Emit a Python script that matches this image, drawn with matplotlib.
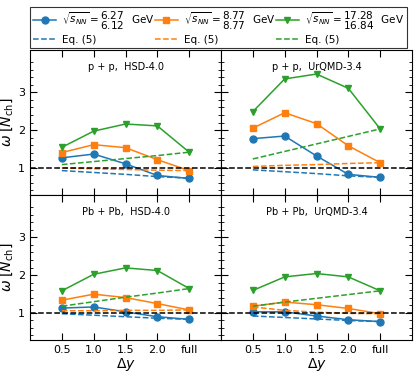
import matplotlib
matplotlib.use("Agg")
import matplotlib.pyplot as plt
from matplotlib.ticker import FixedLocator

xlabels = ["0.5", "1.0", "1.5", "2.0", "full"]
energies = [("6.27", "6.12"), ("8.77", "8.77"), ("17.28", "16.84")]
colors = ["#1f77b4", "#ff7f0e", "#2ca02c"]
markers = ["o", "s", "v"]
titles = ["p + p,  HSD-4.0", "p + p,  UrQMD-3.4", "Pb + Pb,  HSD-4.0", "Pb + Pb,  UrQMD-3.4"]

# p+p HSD
pp_hsd = [[1.26, 1.36, 1.10, 0.79, 0.71],
          [1.40, 1.61, 1.53, 1.21, 0.92],
          [1.54, 1.97, 2.16, 2.11, 1.41]]
pp_hsd_eq = [[0.92, 0.87, 0.82, 0.76, 0.72],
             [0.99, 0.97, 0.95, 0.93, 0.92],
             [1.08, 1.16, 1.24, 1.32, 1.41]]
# p+p UrQMD
pp_urqmd = [[1.77, 1.84, 1.31, 0.82, 0.74],
            [2.05, 2.46, 2.17, 1.58, 1.13],
            [2.49, 3.36, 3.49, 3.11, 2.03]]
pp_urqmd_eq = [[0.94, 0.89, 0.84, 0.78, 0.74],
               [1.03, 1.06, 1.08, 1.11, 1.13],
               [1.23, 1.43, 1.63, 1.83, 2.03]]
# Pb+Pb HSD
pb_hsd = [[1.12, 1.15, 1.02, 0.89, 0.82],
          [1.33, 1.49, 1.40, 1.24, 1.07],
          [1.58, 2.02, 2.19, 2.12, 1.64]]
pb_hsd_eq = [[0.97, 0.93, 0.89, 0.85, 0.82],
             [1.05, 1.05, 1.06, 1.06, 1.07],
             [1.17, 1.29, 1.41, 1.52, 1.64]]
# Pb+Pb UrQMD
pb_urqmd = [[1.02, 1.02, 0.91, 0.81, 0.76],
            [1.17, 1.28, 1.21, 1.11, 0.97],
            [1.59, 1.95, 2.04, 1.95, 1.58]]
pb_urqmd_eq = [[0.91, 0.87, 0.83, 0.79, 0.76],
               [1.15, 1.06, 1.01, 0.98, 0.97],
               [1.17, 1.28, 1.38, 1.48, 1.58]]

data = [(pp_hsd, pp_hsd_eq), (pp_urqmd, pp_urqmd_eq),
        (pb_hsd, pb_hsd_eq), (pb_urqmd, pb_urqmd_eq)]

yticks_major = [1, 2, 3]
yticks_minor = [0.4, 0.6, 0.8, 1.2, 1.4, 1.6, 1.8, 2.2, 2.4, 2.6, 2.8, 3.2, 3.4, 3.6, 3.8]

fig, axes = plt.subplots(2, 2, figsize=(4.17, 3.76), dpi=100, sharex=True, sharey=True)
fig.subplots_adjust(left=0.072, right=0.988, bottom=0.0957, top=0.867, wspace=0, hspace=0)

x = list(range(len(xlabels)))
handles = []
for k, ax in enumerate(axes.flat):
    sim, eq = data[k]
    for i in range(3):
        l1, = ax.plot(x, sim[i], color=colors[i], marker=markers[i], ms=5, lw=1.1,
                      label=r"$\sqrt{s_{NN}}=\genfrac{}{}{0}{0}{\mathrm{%s}}{\mathrm{%s}}$  GeV" % energies[i])
        l2, = ax.plot(x, eq[i], color=colors[i], ls="--", lw=1.1, label="Eq. (5)")
        if k == 0:
            handles += [l1, l2]
    ax.axhline(1.0, color="black", ls="--", lw=1.1, zorder=5)
    ax.text(0.5, 0.885, titles[k], transform=ax.transAxes, ha="center", va="center", fontsize=7)
    ax.set_xlim(-1, 5)
    ax.set_ylim(0.27, 4.13)
    ax.set_xticks(x)
    ax.set_xticklabels(xlabels)
    ax.yaxis.set_major_locator(FixedLocator(yticks_major))
    ax.yaxis.set_minor_locator(FixedLocator(yticks_minor))
    ax.tick_params(which="both", direction="in", top=True, right=True, labelsize=8)
    ax.tick_params(which="major", length=5)
    ax.tick_params(which="minor", length=2.5)

for ax in axes[:, 0]:
    ax.set_ylabel(r"$\omega\;[N_{\mathrm{ch}}]$", fontsize=10, labelpad=2)
for ax in axes[1, :]:
    ax.set_xlabel(r"$\Delta y$", fontsize=10, labelpad=1)

leg = fig.legend(handles=handles, loc="lower left", bbox_to_anchor=(0.072, 0.872, 0.904, 0.115),
                 mode="expand", ncol=3, fontsize=7.5, frameon=True, fancybox=False,
                 edgecolor="black", borderaxespad=0, handlelength=2.2, columnspacing=0.8,
                 handletextpad=0.6, borderpad=0.3, labelspacing=0.25)
leg.get_frame().set_linewidth(0.8)

fig.savefig("out.png", dpi=100)
